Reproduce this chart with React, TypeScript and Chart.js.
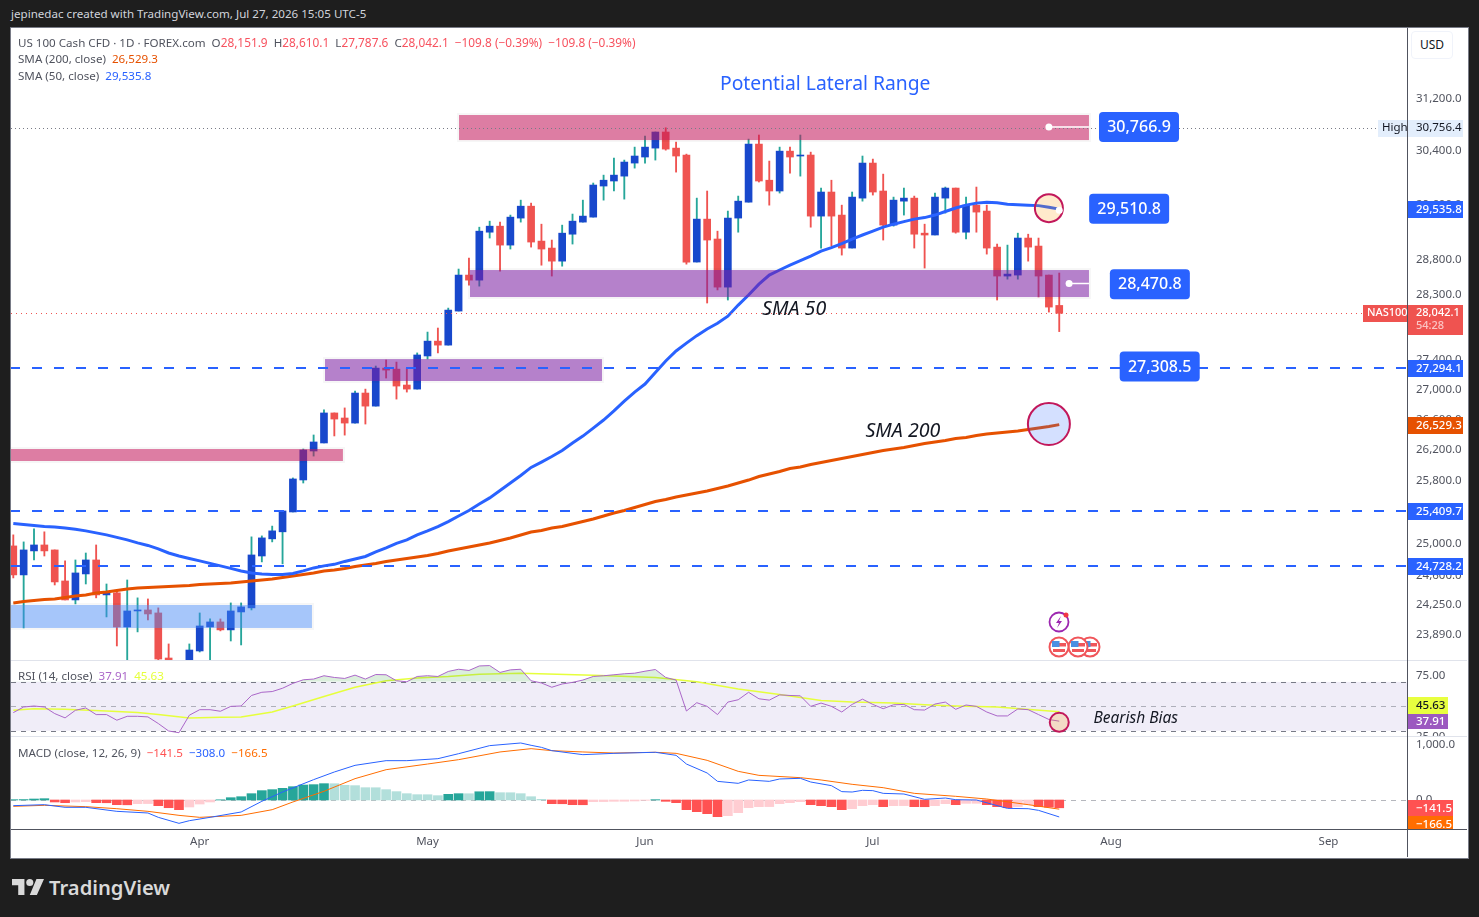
import React, { useEffect, useRef } from "react";
import { Chart, registerables } from "chart.js";

Chart.register(...registerables);

const FONT = '"Noto Sans", "Open Sans", sans-serif';

const opens = [
  24974, 24616, 24912, 24986, 24924, 24542, 24311, 24628, 24800, 24372,
  24397, 23986, 24178, 24190, 24154, 23618, 23300, 23500, 23701, 23986,
  24046, 23951, 24166, 24215, 24849, 25062, 25150, 25400, 25808, 26183,
  26288, 26684, 26617, 26550, 26950, 26775, 27287, 27273, 27058, 27003,
  27452, 27656, 27601, 28073, 28581, 28509, 29198, 29286, 29011, 29404,
  29579, 29069, 28968, 28780, 29169, 29345, 29418, 29877, 29952, 30025,
  30221, 30312, 30447, 30692, 30447, 30340, 28767, 29389, 29099, 28410,
  29404, 29638, 30508, 29964, 29803, 30401, 30327, 30342, 29433, 29788,
  29448, 28968, 29698, 30221, 29803, 29301, 29653, 29698, 29184, 29157,
  29698, 29847, 29198, 29594, 29507, 28982, 28567, 28581, 29113, 28997,
  28581, 28151.9,
];
const highs = [
  25112, 25024, 25188, 25150, 24924, 24789, 24800, 24886, 24986, 24505,
  24432, 24554, 24336, 24323, 24215, 23784, 23570, 23784, 24154, 24082,
  24082, 24275, 24275, 25087, 25099, 25222, 25413, 25834, 26209, 26393,
  26724, 26684, 26751, 26977, 27003, 27315, 27397, 27369, 27287, 27494,
  27781, 27837, 28115, 28667, 28823, 29271, 29359, 29345, 29448, 29668,
  29624, 29315, 29084, 29301, 29463, 29668, 29922, 30040, 30297, 30266,
  30462, 30631, 30692, 30756.4, 30538, 30356, 29698, 29803, 29213, 29507,
  29728, 30584, 30646, 30251, 30462, 30462, 30646, 30386, 29847, 29964,
  29594, 29788, 30327, 30281, 30055, 29713, 29847, 29728, 29315, 29773,
  29862, 29847, 29713, 29862, 29594, 29026, 29011, 29184, 29169, 29113,
  28581, 28610.1,
];
const lows = [
  24579, 23974, 24800, 24849, 24493, 24311, 24263, 24505, 24336, 24106,
  23760, 23547, 23927, 24070, 23582, 23453, 23240, 23453, 23689, 23570,
  23939, 23819, 23772, 24190, 24776, 25024, 24752, 25400, 25769, 26117,
  26288, 26380, 26391, 26550, 26537, 26775, 27152, 26869, 26963, 27003,
  27411, 27494, 27601, 28073, 28438, 28424, 29113, 28638, 28954, 29345,
  28982, 28722, 28567, 28708, 29026, 29345, 29418, 29668, 29803, 29683,
  30145, 30221, 30266, 30416, 30085, 28737, 28767, 28186, 28370, 28228,
  29198, 29638, 29937, 29594, 29773, 30070, 30025, 29271, 28968, 28997,
  28867, 28968, 29653, 29743, 29084, 29286, 29448, 28968, 28681, 29157,
  29477, 29184, 29099, 29198, 28881, 28228, 28523, 28523, 28780, 28271,
  28059, 27787.6,
];
const closes = [
  24616, 24924, 24986, 24912, 24530, 24311, 24640, 24800, 24372, 24397,
  23986, 24178, 24190, 24142, 23606, 23500, 23453, 23712, 23998, 24046,
  23951, 24178, 24227, 24862, 25074, 25162, 25413, 25821, 26196, 26301,
  26684, 26603, 26550, 26950, 26775, 27287, 27260, 27044, 27003, 27466,
  27656, 27601, 28087, 28581, 28509, 29213, 29286, 29011, 29418, 29579,
  29055, 28954, 28780, 29184, 29359, 29433, 29892, 29964, 30040, 30236,
  30327, 30462, 30692, 30432, 30327, 28767, 29389, 29084, 28410, 29404,
  29653, 30508, 29952, 29803, 30401, 30312, 30342, 29433, 29788, 29433,
  28968, 29713, 30221, 29788, 29301, 29668, 29698, 29169, 29157, 29713,
  29847, 29198, 29594, 29492, 28968, 28567, 28595, 29113, 28982, 28567,
  28129, 28042.1,
];
const sma50 = [
  25254, 25241, 25229, 25216, 25210, 25197, 25181, 25162, 25137, 25112,
  25081, 25049, 25012, 24980, 24937, 24886, 24849, 24818, 24789, 24758,
  24727, 24696, 24665, 24640, 24628, 24622, 24622, 24634, 24665, 24702,
  24727, 24746, 24782, 24812, 24843, 24899, 24949, 25005, 25049, 25112,
  25162, 25216, 25279, 25349, 25419, 25502, 25579, 25673, 25769, 25866,
  25970, 26039, 26111, 26189, 26288, 26378, 26484, 26590, 26711, 26841,
  26963, 27071, 27226, 27383, 27521, 27628, 27732, 27823, 27904, 28002,
  28157, 28299, 28452, 28581, 28653, 28724, 28787, 28852, 28925, 28975,
  29033, 29099, 29157, 29213, 29271, 29315, 29352, 29389, 29411, 29448,
  29500, 29552, 29594, 29624, 29638, 29631, 29609, 29601, 29594, 29587,
  29564, 29535.8,
];
const sma200 = [
  24274, 24292, 24304, 24316, 24322, 24340, 24359, 24371, 24395, 24407,
  24426, 24444, 24456, 24462, 24468, 24474, 24480, 24486, 24498, 24504,
  24510, 24517, 24529, 24541, 24553, 24565, 24584, 24602, 24621, 24639,
  24664, 24676, 24694, 24719, 24737, 24756, 24780, 24799, 24818, 24836,
  24855, 24880, 24911, 24936, 24961, 24986, 25011, 25042, 25073, 25110,
  25148, 25167, 25198, 25217, 25248, 25279, 25311, 25349, 25387, 25419,
  25457, 25495, 25533, 25558, 25590, 25616, 25641, 25667, 25699, 25731,
  25769, 25807, 25852, 25885, 25917, 25956, 25975, 26008, 26034, 26060,
  26085, 26111, 26138, 26164, 26190, 26210, 26229, 26255, 26281, 26301,
  26320, 26347, 26360, 26386, 26406, 26419, 26432, 26445, 26465, 26485,
  26504, 26529.3,
];
const rsi = [
  44.9, 49.5, 50.3, 49.5, 44.1, 40.6, 46.8, 48.7, 43.3, 43.3,
  38.7, 41.9, 41.9, 41.4, 36.0, 29.9, 28.5, 42.8, 47.3, 47.3,
  46.0, 50.0, 50.3, 58.9, 61.5, 62.1, 64.8, 68.8, 71.7, 72.3,
  75.0, 73.6, 72.8, 75.5, 72.3, 76.0, 75.8, 70.9, 70.1, 74.4,
  75.0, 74.4, 78.5, 80.3, 79.3, 83.0, 83.3, 77.7, 79.8, 80.3,
  70.9, 69.1, 65.6, 68.3, 69.6, 71.5, 74.4, 75.0, 75.8, 76.6,
  77.1, 78.7, 80.1, 73.6, 71.5, 46.2, 53.0, 50.0, 43.3, 53.5,
  55.4, 61.5, 56.2, 55.1, 59.4, 58.9, 58.6, 50.0, 52.7, 50.0,
  45.4, 51.6, 55.9, 51.6, 48.1, 51.3, 51.6, 47.3, 47.0, 51.9,
  53.5, 47.6, 51.1, 50.0, 45.4, 42.2, 42.2, 47.9, 47.3, 43.3,
  39.3, 37.91,
];
const rsiMaAt = [0, 2, 5, 9, 12, 14, 17, 20, 22, 25, 27, 30, 33, 36, 39, 42, 45, 49, 56, 62, 66, 70, 74, 78, 81, 85, 88, 91, 95, 101];
const rsiMa = [46.8, 48.1, 47.6, 46.2, 44.9, 43.3, 40.6, 41.1, 41.4, 45.4, 50.3, 58.1, 65.6, 70.9, 73.1, 74.4, 76.3, 77.1, 75.5, 73.6, 70.1, 64.2, 59.7, 54.8, 53.5, 52.7, 51.3, 50.3, 49.5, 45.63];
const histogram = [
  6, 8, 18, 24, -36, -48, -36, -30, -48, -50,
  -85, -87, -67, -65, -103, -140, -176, -127, -73, -36,
  4, 42, 60, 115, 170, 188, 212, 242, 272, 279,
  297, 296, 267, 261, 224, 223, 188, 152, 115, 97,
  96, 79, 103, 115, 114, 150, 152, 133, 132, 115,
  60, 12, -67, -68, -85, -86, -30, -29, -24, -23,
  -18, -6, 6, -24, -48, -176, -212, -248, -303, -285,
  -230, -139, -121, -120, -67, -48, -30, -85, -103, -121,
  -176, -158, -103, -85, -121, -103, -102, -121, -122, -103,
  -67, -85, -61, -60, -85, -121, -140, -121, -85, -121,
  -130, -141.5,
];
const macdAt = [0, 3, 5, 7, 10, 13, 14, 16, 17, 19, 22, 24, 26, 29, 31, 33, 36, 38, 41, 43, 46, 49, 50, 51, 52, 55, 58, 62, 64, 65, 67, 68, 70, 71, 73, 74, 76, 77, 79, 80, 81, 82, 83, 84, 86, 88, 90, 91, 93, 96, 98, 99, 101];
const macdLine = [-103, -85, -133, -133, -206, -236, -315, -424, -376, -315, -218, -24, 145, 370, 509, 630, 715, 715, 751, 842, 988, 1036, 994, 957, 897, 824, 848, 867, 812, 654, 491, 339, 303, 364, 339, 382, 394, 327, 261, 152, 145, 176, 170, 121, 109, 12, 36, 6, 0, -152, -158, -188, -308];
const signalAt = [0, 3, 7, 10, 13, 16, 18, 22, 25, 27, 30, 33, 36, 40, 43, 47, 50, 52, 55, 58, 62, 64, 67, 70, 72, 76, 78, 81, 84, 87, 91, 94, 98, 101];
const signalLine = [-115, -97, -121, -158, -206, -279, -315, -279, -176, -36, 158, 388, 551, 654, 733, 873, 933, 897, 873, 854, 867, 848, 721, 521, 448, 406, 364, 285, 224, 121, 67, 18, -85, -166.5];

const priceTicks = [31200, 30400, 29600, 28800, 28300, 27400, 27000, 26600, 26200, 25800, 25000, 24600, 24250, 23890];
const rsiTicks = [75, 25];
const macdTicks = [1000, 0];
const monthAt = [18, 40, 61, 83, 106, 127];
const monthNames = ["Apr", "May", "Jun", "Jul", "Aug", "Sep"];

// zones: from index, to index, upper price, lower price, colour
const zones: [number, number, number, number, string][] = [
  [43.04, 103.87, 30953, 30569, "rgba(194,24,91,0.56)"],
  [44.1, 103.87, 28653, 28270, "rgba(123,31,162,0.56)"],
  [30.1, 56.85, 27410, 27112, "rgba(123,31,162,0.56)"],
  [-1, 31.83, 26209, 26053, "rgba(194,24,91,0.56)"],
  [-1, 28.84, 24250, 23974, "rgba(66,133,244,0.47)"],
];
const dashedLevels = [27294.1, 25409.7, 24728.2];
const callouts: [string, number, number][] = [
  ["30,766.9", 108.7, 30766.9],
  ["29,510.8", 107.75, 29540],
  ["28,470.8", 109.75, 28450],
  ["27,308.5", 110.7, 27308.5],
];
const axisTags: [string, number, string, string][] = [
  ["29,535.8", 29535.8, "#2962ff", "#ffffff"],
  ["27,294.1", 27294.1, "#2962ff", "#ffffff"],
  ["26,529.3", 26529.3, "#e65100", "#ffffff"],
  ["25,409.7", 25409.7, "#2962ff", "#ffffff"],
  ["24,728.2", 24728.2, "#2962ff", "#ffffff"],
];

const X_MIN = -0.222;
const X_MAX = 134.58;

const fmt = (v: number, d: number) =>
  v.toLocaleString("en-US", { minimumFractionDigits: d, maximumFractionDigits: d });

function pts(at: number[], vals: number[]) {
  return vals.map((y, i) => ({ x: at[i], y }));
}
const idx = opens.map((_, i) => i);

function roundRect(ctx: any, x: number, y: number, w: number, h: number, r: number) {
  ctx.beginPath();
  ctx.roundRect(x, y, w, h, r);
  ctx.fill();
}

function ring(ctx: any, x: number, y: number, r: number, fill: string) {
  ctx.beginPath();
  ctx.arc(x, y, r, 0, Math.PI * 2);
  ctx.fillStyle = fill;
  ctx.fill();
  ctx.lineWidth = 2;
  ctx.strokeStyle = "#c2185b";
  ctx.stroke();
}

function dot(ctx: any, x: number, y: number) {
  ctx.beginPath();
  ctx.arc(x, y, 3.5, 0, Math.PI * 2);
  ctx.fillStyle = "#ffffff";
  ctx.fill();
}

const mainOverlay = {
  id: "mainOverlay",
  afterDatasetsDraw(chart: any) {
    const { ctx, scales, chartArea } = chart;
    const X = (v: number) => scales.x.getPixelForValue(v);
    const Y = (v: number) => scales.y.getPixelForValue(v);
    ctx.save();
    ctx.beginPath();
    ctx.rect(chartArea.left, chartArea.top, chartArea.width, chartArea.height);
    ctx.clip();
    zones.forEach(([a, b, up, lo, c]) => {
      const x0 = Math.max(X(a), chartArea.left - 3);
      const x1 = X(b);
      const y0 = Y(up);
      const y1 = Y(lo);
      ctx.fillStyle = "rgba(0,0,0,0.035)";
      ctx.fillRect(x0 - 2, y0 - 2, x1 - x0 + 4, 2);
      ctx.fillRect(x0 - 2, y1, x1 - x0 + 4, 2);
      ctx.fillRect(x1, y0, 2, y1 - y0);
      if (x0 > chartArea.left) ctx.fillRect(x0 - 2, y0, 2, y1 - y0);
      ctx.fillStyle = c;
      ctx.fillRect(x0, y0, x1 - x0, y1 - y0);
    });
    ctx.lineWidth = 2;
    ctx.strokeStyle = "#2962ff";
    ctx.setLineDash([10, 12]);
    ctx.lineDashOffset = 1;
    dashedLevels.forEach((v) => {
      const y = Math.round(Y(v));
      ctx.beginPath();
      ctx.moveTo(chartArea.left, y);
      ctx.lineTo(chartArea.right, y);
      ctx.stroke();
    });
    ctx.lineDashOffset = 0;
    ctx.lineWidth = 1;
    ctx.setLineDash([1, 3]);
    ctx.strokeStyle = "#787b86";
    let y = Math.round(Y(30756.4)) + 0.5;
    ctx.beginPath();
    ctx.moveTo(chartArea.left, y);
    ctx.lineTo(chartArea.right, y);
    ctx.stroke();
    ctx.strokeStyle = "#ef5350";
    ctx.setLineDash([1, 4]);
    y = Math.round(Y(28042.1)) + 0.5;
    ctx.beginPath();
    ctx.moveTo(chartArea.left, y);
    ctx.lineTo(chartArea.right, y);
    ctx.stroke();
    ctx.setLineDash([]);

    // white leader stubs
    ctx.strokeStyle = "#ffffff";
    ctx.lineWidth = 1.5;
    ctx.beginPath();
    ctx.moveTo(X(100), Y(30770));
    ctx.lineTo(X(103.87), Y(30770));
    ctx.moveTo(X(101.95), Y(28460));
    ctx.lineTo(X(103.87), Y(28460));
    ctx.stroke();
    dot(ctx, X(100), Y(30770));
    dot(ctx, X(101.95), Y(28460));

    // circles
    ring(ctx, X(100), Y(29550), 14, "rgba(255,152,0,0.2)");
    ring(ctx, X(100), Y(26537), 21, "rgba(41,98,255,0.2)");
    dot(ctx, X(101), Y(29520));

    // callouts
    ctx.textAlign = "center";
    ctx.textBaseline = "middle";
    callouts.forEach(([t, a, p]) => {
      const cx = X(a);
      const cy = Y(p);
      ctx.fillStyle = "#2962ff";
      roundRect(ctx, cx - 40, cy - 15, 80, 30, 4);
      ctx.fillStyle = "#ffffff";
      ctx.font = `500 16px ${FONT}`;
      ctx.fillText(t, cx, cy + 0.5);
    });

    // free text
    ctx.fillStyle = "#2962ff";
    ctx.font = `19.3px ${FONT}`;
    ctx.fillText("Potential Lateral Range", X(78.4), Y(31420));
    ctx.fillStyle = "#131722";
    ctx.font = `italic 19.6px ${FONT}`;
    ctx.fillText("SMA 50", X(75.4), Y(28101));
    ctx.fillText("SMA 200", X(85.9), Y(26440));
    ctx.restore();

    // price axis tags
    ctx.save();
    ctx.textAlign = "left";
    ctx.textBaseline = "middle";
    ctx.font = `500 11.5px ${FONT}`;
    const ax = chartArea.right;
    axisTags.forEach(([t, v, bg, fg]) => {
      const py = Math.round(Y(v));
      ctx.fillStyle = bg;
      ctx.fillRect(ax, py - 8, 56, 17);
      ctx.fillStyle = fg;
      ctx.fillText(t, ax + 9, py + 0.5);
    });
    // high tag
    let py = Math.round(Y(30756.4));
    ctx.fillStyle = "#e3eefc";
    ctx.fillRect(ax - 29, py - 8, 85, 17);
    ctx.fillStyle = "#131722";
    ctx.font = `11.5px ${FONT}`;
    ctx.fillText("High", ax - 25, py);
    ctx.fillText("30,756.4", ax + 9, py);
    // last price tag
    py = Math.round(Y(28042.1));
    ctx.fillStyle = "#ef5350";
    ctx.fillRect(ax - 44, py - 8, 44, 17);
    ctx.fillRect(ax, py - 8, 56, 30);
    ctx.fillStyle = "#ffffff";
    ctx.font = `500 11px ${FONT}`;
    ctx.fillText("NAS100", ax - 40, py);
    ctx.fillText("28,042.1", ax + 9, py);
    ctx.fillStyle = "#fbc4c3";
    ctx.fillText("54:28", ax + 9, py + 13);
    ctx.restore();
  },
};

const rsiOverlay = {
  id: "rsiOverlay",
  beforeDatasetsDraw(chart: any) {
    const { ctx, scales, chartArea } = chart;
    const Y = (v: number) => scales.y.getPixelForValue(v);
    ctx.save();
    ctx.fillStyle = "#f0edf8";
    ctx.fillRect(chartArea.left, Y(70), chartArea.width, Y(30) - Y(70));
    ctx.lineWidth = 1;
    ctx.setLineDash([5, 5]);
    ctx.strokeStyle = "#787b86";
    [70, 30].forEach((v) => {
      const y = Math.round(Y(v)) + 0.5;
      ctx.beginPath();
      ctx.moveTo(chartArea.left, y);
      ctx.lineTo(chartArea.right, y);
      ctx.stroke();
    });
    ctx.strokeStyle = "rgba(120,123,134,0.55)";
    const y = Math.round(Y(50)) + 0.5;
    ctx.beginPath();
    ctx.moveTo(chartArea.left, y);
    ctx.lineTo(chartArea.right, y);
    ctx.stroke();
    ctx.restore();
  },
  afterDatasetsDraw(chart: any) {
    const { ctx, scales, chartArea } = chart;
    const X = (v: number) => scales.x.getPixelForValue(v);
    const Y = (v: number) => scales.y.getPixelForValue(v);
    ctx.save();
    ring(ctx, X(101), Y(37), 9.5, "rgba(255,152,0,0.2)");
    ctx.fillStyle = "#131722";
    ctx.font = `italic 15.5px ${FONT}`;
    ctx.textBaseline = "middle";
    ctx.textAlign = "left";
    ctx.fillText("Bearish Bias", X(104.3), Y(39.7));
    const ax = chartArea.right;
    const py = Math.round(Y(37.91));
    ctx.font = `500 11.5px ${FONT}`;
    ctx.fillStyle = "#9c59c0";
    ctx.fillRect(ax, py - 7, 41, 15);
    ctx.fillStyle = "#ffffff";
    ctx.fillText("37.91", ax + 9, py + 0.5);
    ctx.fillStyle = "#e8ff3f";
    ctx.fillRect(ax, py - 24, 41, 17);
    ctx.fillStyle = "#131722";
    ctx.fillText("45.63", ax + 9, py - 15.5);
    ctx.restore();
  },
};

const macdOverlay = {
  id: "macdOverlay",
  beforeDatasetsDraw(chart: any) {
    const { ctx, scales, chartArea } = chart;
    const y = Math.round(scales.y.getPixelForValue(0)) + 0.5;
    ctx.save();
    ctx.lineWidth = 1;
    ctx.setLineDash([5, 5]);
    ctx.strokeStyle = "rgba(120,123,134,0.55)";
    ctx.beginPath();
    ctx.moveTo(chartArea.left, y);
    ctx.lineTo(chartArea.right, y);
    ctx.stroke();
    ctx.restore();
  },
  afterDatasetsDraw(chart: any) {
    const { ctx, scales, chartArea } = chart;
    const y = Math.round(scales.y.getPixelForValue(0));
    const ax = chartArea.right;
    ctx.save();
    ctx.beginPath();
    ctx.rect(ax, chartArea.top, 60, chartArea.height);
    ctx.clip();
    ctx.font = `500 11.5px ${FONT}`;
    ctx.textBaseline = "middle";
    ctx.textAlign = "left";
    ctx.fillStyle = "#ff5252";
    ctx.fillRect(ax, y, 46, 16);
    ctx.fillStyle = "#ffffff";
    ctx.fillText("\u2212141.5", ax + 9, y + 8.5);
    ctx.fillStyle = "#ff6d00";
    ctx.fillRect(ax, y + 16, 46, 16);
    ctx.fillStyle = "#ffffff";
    ctx.fillText("\u2212166.5", ax + 9, y + 25);
    ctx.restore();
  },
};

function noPad(s: any) {
  s.paddingTop = 0;
  s.paddingBottom = 0;
  s.paddingLeft = 0;
  s.paddingRight = 0;
}

function yAxis(kind: any, min: number, max: number, ticks: number[], digits: number) {
  return {
    type: kind,
    position: "right",
    min,
    max,
    grid: { display: false, drawTicks: false },
    border: { display: false },
    afterFit: (s: any) => {
      s.width = 60;
      noPad(s);
    },
    afterBuildTicks: (s: any) => {
      s.ticks = ticks.map((value) => ({ value }));
    },
    ticks: {
      autoSkip: false,
      padding: 9,
      color: "#50535e",
      font: { family: FONT, size: 11.5 },
      callback: (v: number) => fmt(Number(v), digits),
    },
  };
}

const hiddenX = { type: "linear", min: X_MIN, max: X_MAX, offset: false, display: false };

const baseOptions = {
  responsive: false,
  maintainAspectRatio: false,
  animation: false,
  devicePixelRatio: 1,
  events: [],
  layout: { padding: 0 },
};
const noPlugins = { legend: { display: false }, tooltip: { enabled: false } };

export default function App() {
  const mainRef = useRef<HTMLCanvasElement>(null);
  const rsiRef = useRef<HTMLCanvasElement>(null);
  const macdRef = useRef<HTMLCanvasElement>(null);

  useEffect(() => {
    document.body.style.margin = "0";
    document.body.style.background = "#1e1e1e";

    const up = (i: number) => closes[i] >= opens[i];
    const main = new Chart(mainRef.current as any, {
      type: "bar",
      data: {
        datasets: [
          {
            type: "line",
            data: pts(idx, sma50),
            borderColor: "#2962ff",
            borderWidth: 3,
            pointRadius: 0,
            tension: 0,
            order: 1,
          },
          {
            type: "line",
            data: pts(idx, sma200),
            borderColor: "#e65100",
            borderWidth: 3,
            pointRadius: 0,
            tension: 0,
            order: 2,
          },
          {
            data: idx.map((i) => ({ x: i, y: [Math.min(opens[i], closes[i]), Math.max(opens[i], closes[i])] })),
            backgroundColor: idx.map((i) => (up(i) ? "#1848cc" : "#ef5350")),
            grouped: false,
            barThickness: 7,
            maxBarThickness: 7,
            minBarLength: 1,
            order: 3,
          },
          {
            data: idx.map((i) => ({ x: i, y: [lows[i], highs[i]] })),
            backgroundColor: idx.map((i) => (up(i) ? "#26a69a" : "#ef5350")),
            grouped: false,
            barThickness: 1.2,
            maxBarThickness: 1.2,
            order: 4,
          },
        ],
      },
      options: {
        ...baseOptions,
        plugins: noPlugins,
        scales: {
          x: hiddenX,
          y: yAxis("logarithmic", 23594.5, 32324, priceTicks, 1),
        },
      } as any,
      plugins: [mainOverlay],
    } as any);

    const rsiChart = new Chart(rsiRef.current as any, {
      type: "line",
      data: {
        datasets: [
          {
            data: pts(idx, rsi),
            borderColor: "#ab67c9",
            borderWidth: 1,
            pointRadius: 0,
            tension: 0,
            fill: { value: 70, above: "rgba(76,175,80,0.2)", below: "rgba(0,0,0,0)" },
          },
          {
            data: pts(rsiMaAt, rsiMa),
            borderColor: "#e6ff3c",
            borderWidth: 1.5,
            pointRadius: 0,
            tension: 0,
          },
        ],
      },
      options: {
        ...baseOptions,
        plugins: noPlugins,
        scales: {
          x: hiddenX,
          y: yAxis("linear", 25, 87.04, rsiTicks, 2),
        },
      } as any,
      plugins: [rsiOverlay],
    } as any);

    const barColor = (i: number) => {
      const v = histogram[i];
      const p = i > 0 ? histogram[i - 1] : 0;
      if (v >= 0) return v > p ? "#26a69a" : "#b2dfdb";
      return v < p ? "#ff5252" : "#ffcdd2";
    };
    const macdChart = new Chart(macdRef.current as any, {
      type: "bar",
      data: {
        datasets: [
          {
            type: "line",
            data: pts(macdAt, macdLine),
            borderColor: "#2962ff",
            borderWidth: 1,
            pointRadius: 0,
            tension: 0,
            order: 1,
          },
          {
            type: "line",
            data: pts(signalAt, signalLine),
            borderColor: "#ff6d00",
            borderWidth: 1,
            pointRadius: 0,
            tension: 0,
            order: 2,
          },
          {
            data: pts(idx, histogram),
            backgroundColor: idx.map(barColor),
            grouped: false,
            barThickness: 9,
            maxBarThickness: 9,
            order: 3,
          },
        ],
      },
      options: {
        ...baseOptions,
        plugins: noPlugins,
        scales: {
          x: {
            type: "linear",
            min: X_MIN,
            max: X_MAX,
            offset: false,
            grid: { display: false, drawTicks: false },
            border: { display: false },
            afterFit: (s: any) => {
              s.height = 28;
              noPad(s);
            },
            afterBuildTicks: (s: any) => {
              s.ticks = monthAt.map((value) => ({ value }));
            },
            ticks: {
              autoSkip: false,
              maxRotation: 0,
              padding: 6,
              color: "#50535e",
              font: { family: FONT, size: 11.5 },
              callback: (v: number) => monthNames[monthAt.indexOf(Number(v))],
            },
          },
          y: yAxis("linear", -527, 1145, macdTicks, 1),
        },
      } as any,
      plugins: [macdOverlay],
    } as any);

    return () => {
      main.destroy();
      rsiChart.destroy();
      macdChart.destroy();
    };
  }, []);

  const abs = (left: number, top: number, extra: any = {}) => ({
    position: "absolute" as const,
    left,
    top,
    whiteSpace: "pre" as const,
    ...extra,
  });
  const legend = { fontFamily: FONT, fontSize: 11.6, lineHeight: "16px", color: "#50535e" };
  const red = { color: "#f7525f", fontSize: 11.85 };

  return (
    <div style={{ position: "absolute", left: 0, top: 0, width: 1479, height: 917, overflow: "hidden", background: "#1e1e1e" }}>
      <div style={abs(11, 6, { fontFamily: FONT, fontSize: 11.6, lineHeight: "16px", color: "#d1d4dc" })}>
        jepinedac created with TradingView.com, Jul 27, 2026 15:05 UTC-5
      </div>
      <div style={abs(10, 27, { width: 1457, height: 830, background: "#ffffff", border: "1px solid #787b86" })} />
      <canvas ref={mainRef} width={1456} height={632} style={abs(11, 28, { display: "block" })} />
      <canvas ref={rsiRef} width={1456} height={76} style={abs(11, 661, { display: "block" })} />
      <canvas ref={macdRef} width={1456} height={120} style={abs(11, 737, { display: "block" })} />
      <div style={abs(11, 660, { width: 1456, height: 1, background: "#e0e3eb" })} />
      <div style={abs(11, 736, { width: 1456, height: 1, background: "#e0e3eb" })} />
      <div style={abs(11, 829, { width: 1456, height: 1, background: "#50535e" })} />
      <div style={abs(1407, 28, { width: 1, height: 829, background: "#50535e" })} />
      <div style={abs(18, 34, legend)}>
        US 100 Cash CFD · 1D · FOREX.com  O<span style={red}>28,151.9</span>  H<span style={red}>28,610.1</span>  L<span style={red}>27,787.6</span>  C<span style={red}>28,042.1</span>  <span style={red}>−109.8 (−0.39%)</span>  <span style={red}>−109.8 (−0.39%)</span>
      </div>
      <div style={abs(18, 51, legend)}>
        SMA (200, close)  <span style={{ color: "#e65100" }}>26,529.3</span>
      </div>
      <div style={abs(18, 68, legend)}>
        SMA (50, close)  <span style={{ color: "#2962ff" }}>29,535.8</span>
      </div>
      <div style={abs(18, 668, legend)}>
        RSI (14, close)  <span style={{ color: "#ab67c9" }}>37.91</span>  <span style={{ color: "#e6ff3c" }}>45.63</span>
      </div>
      <div style={abs(18, 745, legend)}>
        MACD (close, 12, 26, 9)  <span style={{ color: "#ff5252" }}>−141.5</span>  <span style={{ color: "#2962ff" }}>−308.0</span>  <span style={{ color: "#ff6d00" }}>−166.5</span>
      </div>
      <div style={abs(1411, 31, { width: 40, height: 26, lineHeight: "26px", textAlign: "center", fontFamily: FONT, fontSize: 12, color: "#131722", background: "#ffffff", border: "1px solid #f0f3fa", borderRadius: 4 })}>
        USD
      </div>

      <svg style={abs(1048, 610, { overflow: "visible" })} width={60} height={50}>
        <circle cx={11} cy={12} r={9.5} fill="#fff" stroke="#9c27b0" strokeWidth={1.8} />
        <path d="M13 6 L8 13 L11 13 L9 18 L14 11 L11 11 Z" fill="#9c27b0" />
        <circle cx={18} cy={5} r={2.5} fill="#f23645" />
        {[42, 30, 11].map((cx) => (
          <g key={cx}>
            <circle cx={cx} cy={37} r={9.5} fill="#fff" stroke="#f0555a" strokeWidth={2} />
            <rect x={cx - 7} y={33} width={14} height={3.5} fill="#f0555a" />
            <rect x={cx - 6} y={39} width={12} height={3} fill="#f0555a" />
            <rect x={cx - 7} y={31} width={7.5} height={6} fill="#4a90e2" />
          </g>
        ))}
      </svg>

      <svg style={abs(12, 878)} width={32} height={18} viewBox="0 0 36 18">
        <path d="M14 18H7V7H0V0h14v18zM28 18h-8L27.5 0H36l-8 18z" fill="#d9d9d9" />
        <circle cx={20} cy={4} r={4} fill="#d9d9d9" />
      </svg>
      <div style={abs(49, 874, { fontFamily: FONT, fontSize: 20.2, fontWeight: 600, lineHeight: "26px", color: "#d9d9d9" })}>TradingView</div>
    </div>
  );
}
